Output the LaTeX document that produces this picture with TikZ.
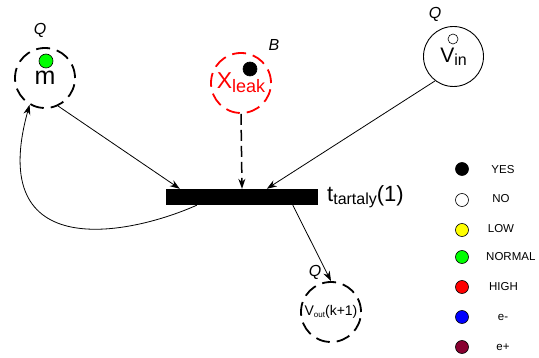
\documentclass[tikz,border=0pt]{standalone}
\usepackage{fontspec}
\setmainfont{Liberation Sans}
\usetikzlibrary{arrows.meta}
\definecolor{tokgreen}{RGB}{0,255,0}
\definecolor{tokyellow}{RGB}{255,255,0}
\definecolor{tokred}{RGB}{255,0,0}
\definecolor{tokblue}{RGB}{0,0,255}
\definecolor{tokmaroon}{RGB}{136,0,48}
\newcommand\fsz[1]{\fontsize{#1}{#1}\selectfont}
\begin{document}
\begin{tikzpicture}[x=1pt,y=-1pt,
  place/.style={circle,draw,inner sep=0pt,minimum size=60pt,line width=1.8pt},
  dplace/.style={place,dash pattern=on 14pt off 7pt},
  token/.style={circle,draw,line width=0.6pt,inner sep=0pt,minimum size=13pt},
  arc/.style={-{Stealth[length=10pt,width=7pt]},line width=0.8pt},
  qlab/.style={font=\fsz{16}\itshape,inner sep=0pt},
  leg/.style={font=\fsz{11.5},inner sep=0pt}]
\useasboundingbox (0,0) rectangle (539,358);

% places
\node[dplace] (m) at (45,78) {\fsz{25}m};
\node[dplace,draw=red,text=red] (xleak) at (241,83)
  {\fsz{23}X\raisebox{-4pt}{\fsz{18}leak}};
\node[place,line width=0.9pt] (vin) at (453.5,56.5)
  {\fsz{21}V\raisebox{-3pt}{\fsz{16}in}};
\node[dplace] (vout) at (331,312)
  {\fsz{14}V\raisebox{-2pt}{\fsz{8}out}(k+1)};

% tokens
\node[token,fill=tokgreen,minimum size=14pt] (tm) at (46,61) {};
\node[token,fill=black,minimum size=14pt] (tx) at (250,69) {};
\node[token,fill=white,minimum size=10pt] (tv) at (453,39) {};

% labels
\node[qlab] (qm) at (40,30) {Q};
\node[qlab] (qb) at (274,45) {B};
\node[qlab] (qv) at (435,14) {Q};
\node[qlab] (qo) at (315,272) {Q};

% transition
\node[fill=black,inner sep=0pt,minimum width=152pt,minimum height=16pt] (bar) at (242,197) {};
\node[anchor=west,inner sep=0pt] (tlab) at (327,197)
  {\fsz{22}t\raisebox{-3pt}{\fsz{16}tartaly}(1)};

% arcs
\draw[arc] (m.295) -- ([xshift=14pt]bar.north west);
\draw[arc,line width=1.5pt,dash pattern=on 11pt off 5pt] (xleak.south) -- (bar.north);
\draw[arc] (vin.233) -- ([xshift=101pt]bar.north west);
\draw[arc] ([xshift=127pt]bar.south west) -- (vout.north);
\draw[arc] ([xshift=31pt]bar.south west) .. controls (130,235) and (-15,265) .. (m.240);

% legend
\node[token,fill=black] (l1) at (462,169) {};
\node[token,fill=white] (l2) at (462,200) {};
\node[token,fill=tokyellow] (l3) at (462,230) {};
\node[token,fill=tokgreen] (l4) at (462,257) {};
\node[token,fill=tokred] (l5) at (462,287) {};
\node[token,fill=tokblue] (l6) at (462,317) {};
\node[token,fill=tokmaroon] (l7) at (462,347) {};
\node[leg] (t1) at (503,170) {YES};
\node[leg] (t2) at (501,199) {NO};
\node[leg] (t3) at (501,229) {LOW};
\node[leg,anchor=west] (t4) at (486,257) {NORMAL};
\node[leg] (t5) at (503.5,287) {HIGH};
\node[leg] (t6) at (503,317) {e-};
\node[leg] (t7) at (503,347) {e+};
\end{tikzpicture}
\end{document}
